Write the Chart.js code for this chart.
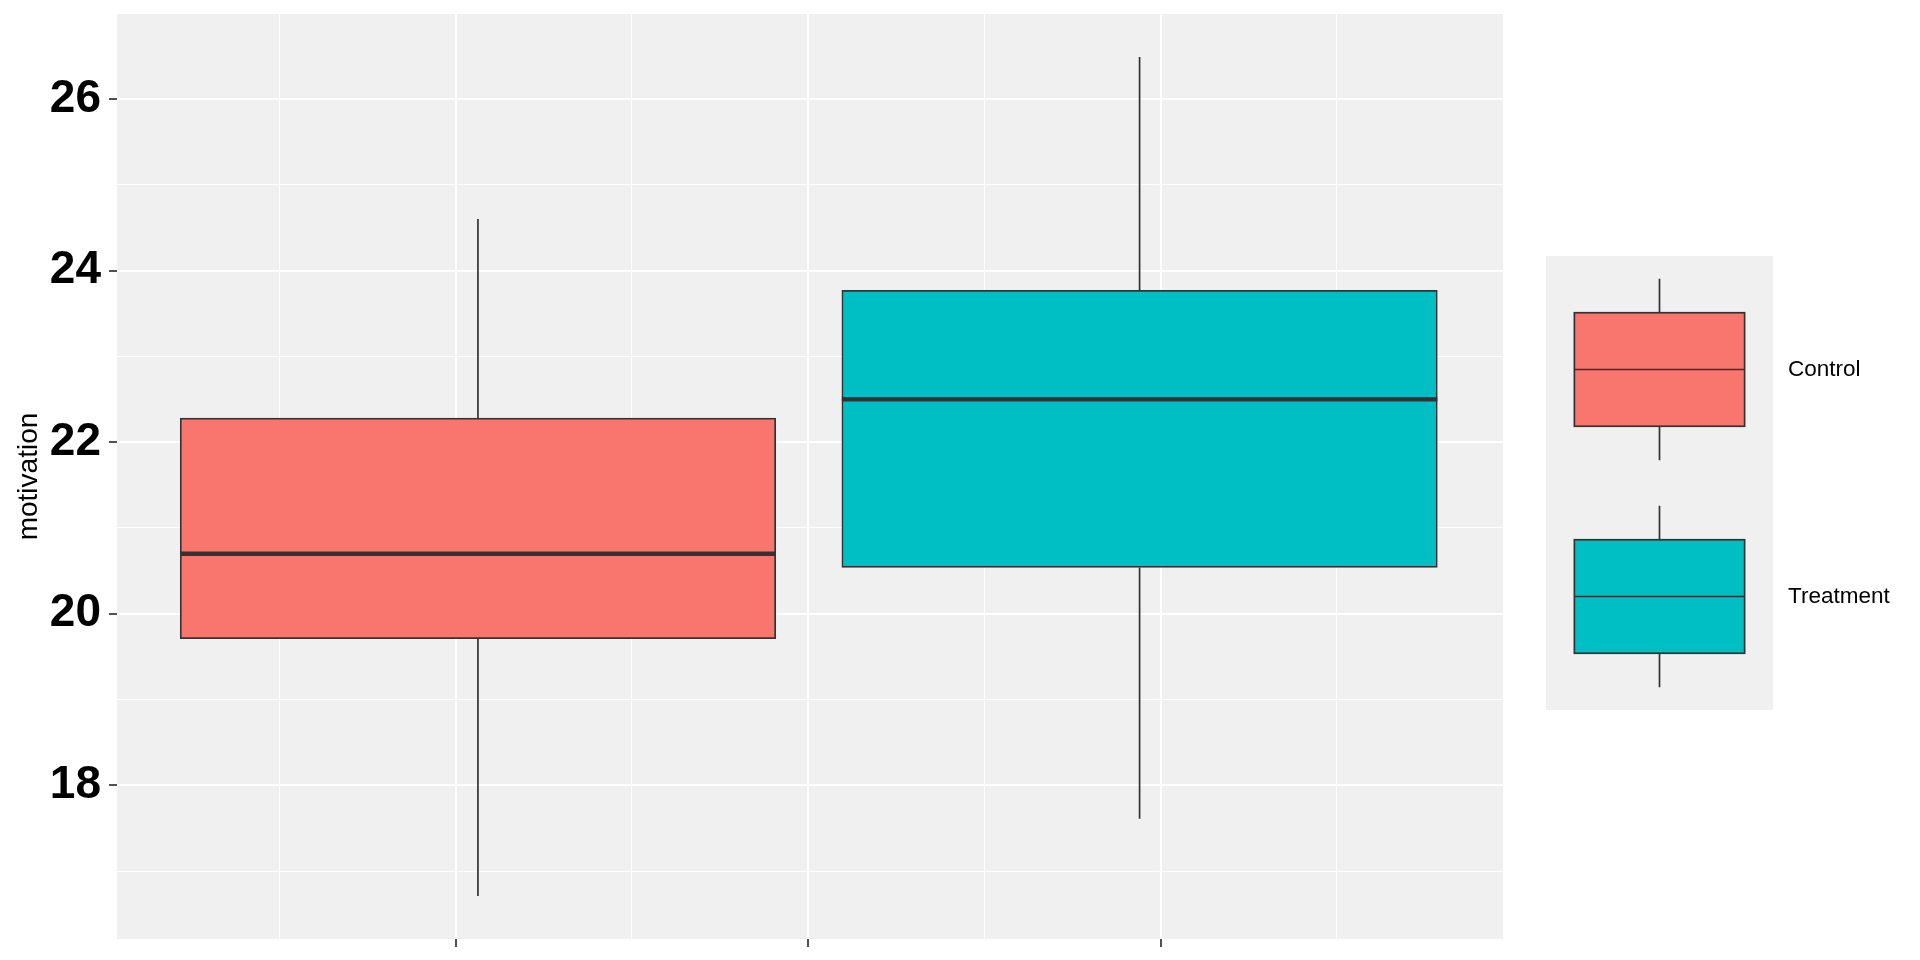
<!DOCTYPE html>
<html>
<head>
<meta charset="utf-8">
<script src="https://cdn.jsdelivr.net/npm/chart.js@4"></script>
<style>
  html, body { margin: 0; padding: 0; background: #fff; }
  #wrap { width: 1920px; height: 960px; position: relative; }
</style>
</head>
<body>
<div id="wrap"><canvas id="chart"></canvas></div>
<script>
const groups = ['Control', 'Treatment'];
const colours = ['#F8766D', '#00BFC4'];
const positions = [1.063, 2.94];
const lowerWhisker = [16.71, 17.61];
const q1 = [19.71, 20.54];
const median = [20.70, 22.50];
const q3 = [22.28, 23.77];
const upperWhisker = [24.60, 26.49];
const yTickLabels = [18, 20, 22, 24, 26];
const xBreaks = [1, 2, 3];

const outline = '#333333';
const panel = '#F0F0F0';
const family = "'Liberation Sans', Arial, sans-serif";
Chart.defaults.font.family = family;

// ggplot makes the box 90% of the spacing between groups
const halfWidth = 0.9 * (positions[1] - positions[0]) / 2;

const boxes = {
  type: 'bar',
  data: positions.map((x, i) => ({x, y: [q1[i], q3[i]]})),
  backgroundColor: colours,
  borderColor: outline,
  borderWidth: 1.7,
  borderSkipped: false,
  barThickness: 'flex',
  categoryPercentage: 1,
  barPercentage: 0.9,
  order: 2
};

const medians = groups.map((g, i) => ({
  type: 'line',
  data: [
    {x: positions[i] - halfWidth, y: median[i]},
    {x: positions[i] + halfWidth, y: median[i]}
  ],
  borderColor: outline,
  borderWidth: 4.5,
  pointRadius: 0,
  order: 1
}));

const whiskers = groups.map((g, i) => ({
  type: 'line',
  data: [
    {x: positions[i], y: lowerWhisker[i]},
    {x: positions[i], y: q1[i]},
    {x: positions[i], y: null},
    {x: positions[i], y: q3[i]},
    {x: positions[i], y: upperWhisker[i]}
  ],
  borderColor: outline,
  borderWidth: 1.7,
  pointRadius: 0,
  spanGaps: false,
  order: 3
}));

const panelBackground = {
  id: 'panelBackground',
  beforeDraw(chart) {
    const {ctx, chartArea: a} = chart;
    ctx.save();
    ctx.fillStyle = panel;
    ctx.fillRect(a.left, a.top, a.right - a.left, a.bottom - a.top);
    ctx.restore();
  }
};

// legend with boxplot keys, like ggplot's
const boxLegend = {
  id: 'boxLegend',
  afterDraw(chart) {
    const {ctx, chartArea} = chart;
    const key = 227;
    const left = chartArea.right + 43;
    const top = chart.height / 2 + 3 - key * groups.length / 2;
    ctx.save();
    ctx.fillStyle = panel;
    ctx.fillRect(left, top, key, key * groups.length);
    ctx.strokeStyle = outline;
    ctx.lineWidth = 1.7;
    groups.forEach((name, i) => {
      const y0 = top + i * key;
      const cx = left + key / 2;
      ctx.beginPath();
      ctx.moveTo(cx, y0 + key * 0.1);
      ctx.lineTo(cx, y0 + key * 0.25);
      ctx.moveTo(cx, y0 + key * 0.75);
      ctx.lineTo(cx, y0 + key * 0.9);
      ctx.stroke();
      ctx.fillStyle = colours[i];
      ctx.fillRect(left + key * 0.125, y0 + key * 0.25, key * 0.75, key * 0.5);
      ctx.strokeRect(left + key * 0.125, y0 + key * 0.25, key * 0.75, key * 0.5);
      ctx.beginPath();
      ctx.moveTo(left + key * 0.125, y0 + key / 2);
      ctx.lineTo(left + key * 0.875, y0 + key / 2);
      ctx.stroke();
      ctx.fillStyle = '#000';
      ctx.font = '22.5px ' + family;
      ctx.textAlign = 'left';
      ctx.textBaseline = 'middle';
      ctx.fillText(name, left + key + 15, y0 + key / 2);
    });
    ctx.restore();
  }
};

new Chart(document.getElementById('chart'), {
  type: 'bar',
  data: {
    datasets: [...medians, boxes, ...whiskers]
  },
  options: {
    responsive: true,
    maintainAspectRatio: false,
    animation: false,
    layout: {
      padding: {top: 14, right: 417, bottom: 0, left: 0}
    },
    plugins: {
      legend: {display: false},
      tooltip: {enabled: false}
    },
    scales: {
      x: {
        type: 'linear',
        min: 0.039,
        max: 3.971,
        offset: false,
        ticks: {
          display: false,
          stepSize: 0.5,
          includeBounds: false,
          autoSkip: false
        },
        grid: {
          offset: false,
          color: '#fff',
          lineWidth: c => xBreaks.includes(c.tick.value) ? 2 : 1,
          tickLength: 8,
          tickWidth: 1.7,
          tickColor: c => xBreaks.includes(c.tick.value) ? outline : 'rgba(0,0,0,0)'
        },
        border: {display: false},
        afterFit: s => {
          s.height = 21;
          s.paddingLeft = 0;
          s.paddingRight = 0;
        }
      },
      y: {
        min: 16.21,
        max: 26.99,
        beginAtZero: false,
        ticks: {
          stepSize: 1,
          includeBounds: false,
          padding: 8,
          color: '#000',
          font: {size: 46, weight: 'bold'},
          callback: v => yTickLabels.includes(v) ? String(v) : ''
        },
        grid: {
          color: '#fff',
          lineWidth: c => yTickLabels.includes(c.tick.value) ? 2 : 1,
          tickLength: 8,
          tickWidth: 1.7,
          tickColor: c => yTickLabels.includes(c.tick.value) ? outline : 'rgba(0,0,0,0)'
        },
        border: {display: false},
        title: {
          display: true,
          text: 'motivation',
          color: '#000',
          font: {size: 28},
          padding: {top: 12}
        },
        afterFit: s => {
          s.width = 117;
          s.paddingTop = 0;
          s.paddingBottom = 0;
        }
      }
    }
  },
  plugins: [panelBackground, boxLegend]
});
</script>
</body>
</html>
